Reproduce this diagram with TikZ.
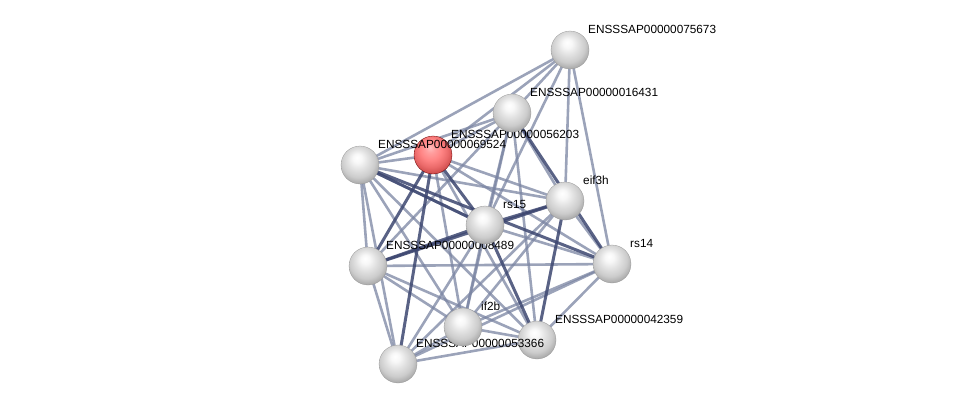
\documentclass[tikz,border=0pt]{standalone}
\usepackage{fontspec}
\setmainfont{Liberation Sans}
\usetikzlibrary{backgrounds}
\pgfdeclareradialshading{pearl}{\pgfpoint{-4bp}{10bp}}{color(0bp)=(white); color(6bp)=(white!97!black); color(14bp)=(white!88!black); color(22bp)=(white!80!black); color(28bp)=(white!68!black); color(34bp)=(white!55!black); color(50bp)=(white!45!black)}
\pgfdeclareradialshading{rosy}{\pgfpoint{-4bp}{10bp}}{color(0bp)=(white!75!red); color(6bp)=(white!62!red); color(14bp)=(white!52!red); color(22bp)=(white!45!red!92!black); color(28bp)=(white!38!red!82!black); color(34bp)=(white!30!red!70!black); color(50bp)=(white!25!red!60!black)}
\begin{document}
\begin{tikzpicture}[x=1pt, y=-1pt,
    protein/.style={circle, minimum size=38pt, inner sep=0pt, shading=pearl, draw=black!40, line width=0.3pt},
    query/.style={protein, shading=rosy, draw=red!40!black},
    lbl/.style={anchor=base west, inner sep=0pt, font=\fontsize{11.8}{13}\selectfont},
    link/.style={line width=2.6pt, draw=edgeColour, draw opacity=0.75},
    strong/.style={link, line width=3pt, draw=edgeDark, draw opacity=0.85}]
    \definecolor{edgeColour}{HTML}{7A84A2}
    \definecolor{edgeDark}{HTML}{3C4670}

    % Fix canvas
    \useasboundingbox (0,0) rectangle (975,410);

    % Proteins, each with its label
    \foreach \name/\x/\y/\kind/\txt in {c/433/155/query/ENSSSAP00000056203,
        d/360/165/protein/ENSSSAP00000069524, b/512/113/protein/ENSSSAP00000016431,
        a/570/50/protein/ENSSSAP00000075673, g/368/266/protein/ENSSSAP00000008489,
        e/565/201/protein/eif3h, f/485/225/protein/rs15, h/612/264/protein/rs14,
        j/537/340/protein/ENSSSAP00000042359, k/398/364/protein/ENSSSAP00000053366,
        i/463/327/protein/if2b}
    {
        \node[\kind] (\name) at (\x,\y) {};
        \path (\name.center) ++(18,-17) node[lbl] (t\name) {\txt};
    }

    % Interactions
    \begin{scope}[on background layer]
        \foreach \u/\v in {a/d, a/c, a/b, a/f, a/e, a/h,
            b/d, b/c, b/e, b/f, b/g, b/i, b/j,
            c/d, c/e, c/h, c/i, c/j,
            d/e, d/g, d/k, d/j, d/i,
            e/h, e/i, e/k,
            f/d, f/h, f/i, f/k,
            g/h, g/i, g/j, g/k,
            h/i, h/j, h/k,
            i/j, i/k, j/k}
            \draw[link] (\u.center) -- (\v.center);
        \foreach \u/\v in {c/g, c/f, c/k, d/f, e/f, e/g, e/j, f/j, f/g, b/h, d/h}
            \draw[strong] (\u.center) -- (\v.center);
    \end{scope}

\end{tikzpicture}
\end{document}
